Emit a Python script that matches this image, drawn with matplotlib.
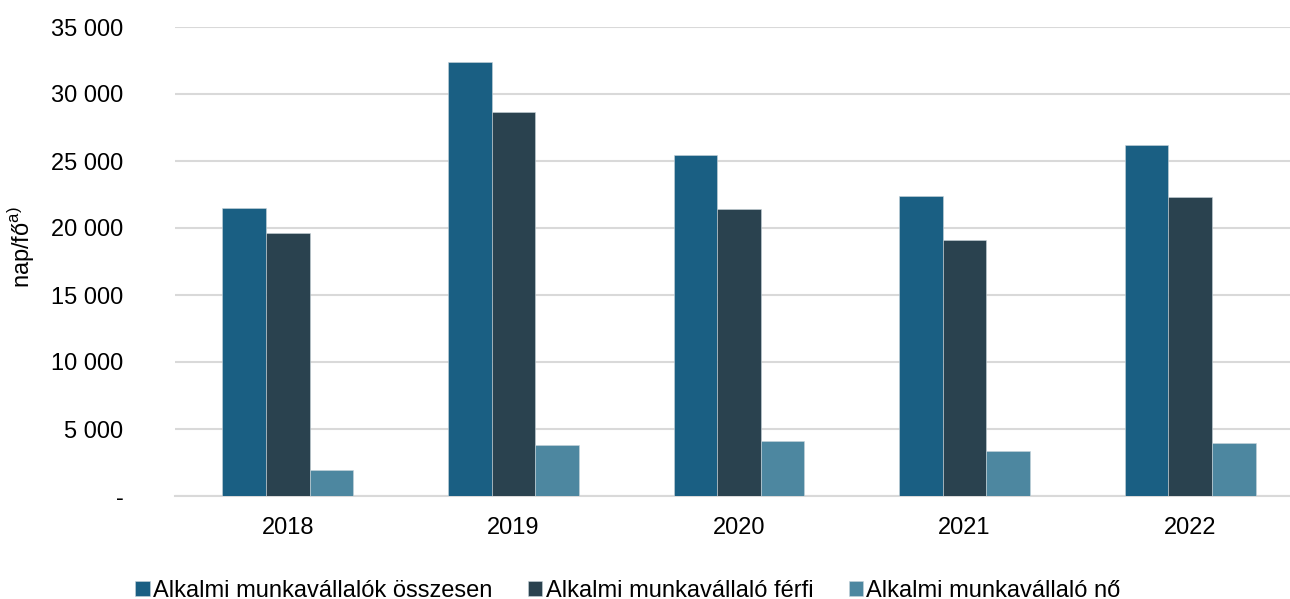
import numpy as np
import matplotlib
matplotlib.use("Agg")
import matplotlib.pyplot as plt
from matplotlib.ticker import FuncFormatter

plt.rcParams['font.family'] = ['Liberation Sans', 'DejaVu Sans']
plt.rcParams['mathtext.fontset'] = 'custom'
plt.rcParams['mathtext.rm'] = 'Liberation Sans'

years = ["2018", "2019", "2020", "2021", "2022"]
total = [21500, 32400, 25450, 22400, 26200]
male = [19600, 28650, 21400, 19100, 22350]
female = [1950, 3800, 4100, 3350, 3950]
labels = ["Alkalmi munkavállalók összesen", "Alkalmi munkavállaló férfi",
          "Alkalmi munkavállaló nő"]
colors = ["#1a5f83", "#2a424f", "#4d87a0"]

fig = plt.figure(figsize=(12.9, 5.99), dpi=100)
ax = fig.add_axes([175/1290, 103/599, 1128/1290, 469/599])

x = np.arange(len(years))
w = 0.193
for i, (vals, lab, c) in enumerate(zip([total, male, female], labels, colors)):
    ax.bar(x + (i - 1) * w, vals, w, color=c, label=lab,
           edgecolor="#c8d4da", linewidth=0.4, zorder=3)

ax.set_xlim(-0.5, 4.5)
ax.set_ylim(0, 35000)
ax.set_yticks(np.arange(0, 35001, 5000))
ax.yaxis.set_major_formatter(FuncFormatter(
    lambda v, p: "-" if v == 0 else f"{int(v):,}".replace(",", " ")))
ax.set_xticks(x)
ax.set_xticklabels(years)
ax.grid(axis="y", color="#d9d9d9", linewidth=1.5, zorder=0)
for s in ["top", "right", "left"]:
    ax.spines[s].set_visible(False)
ax.spines["bottom"].set_color("#d9d9d9")
ax.spines["bottom"].set_linewidth(1.5)
ax.tick_params(axis="both", length=0, labelsize=17, colors="#000000")
ax.tick_params(axis="y", pad=37)
ax.tick_params(axis="x", pad=15)
ax.set_ylabel("nap/fő$^{\\mathrm{a)}}$", fontsize=17)
ax.yaxis.set_label_coords(-0.122, 0.53)

ax.legend(loc="lower center", bbox_to_anchor=(628/1290, -0.02), bbox_transform=fig.transFigure,
          ncol=3, frameon=False, fontsize=17, handlelength=0.6, handleheight=0.6,
          handletextpad=0.15, columnspacing=1.5, borderaxespad=0.0)

fig.savefig("out.png", dpi=100)
